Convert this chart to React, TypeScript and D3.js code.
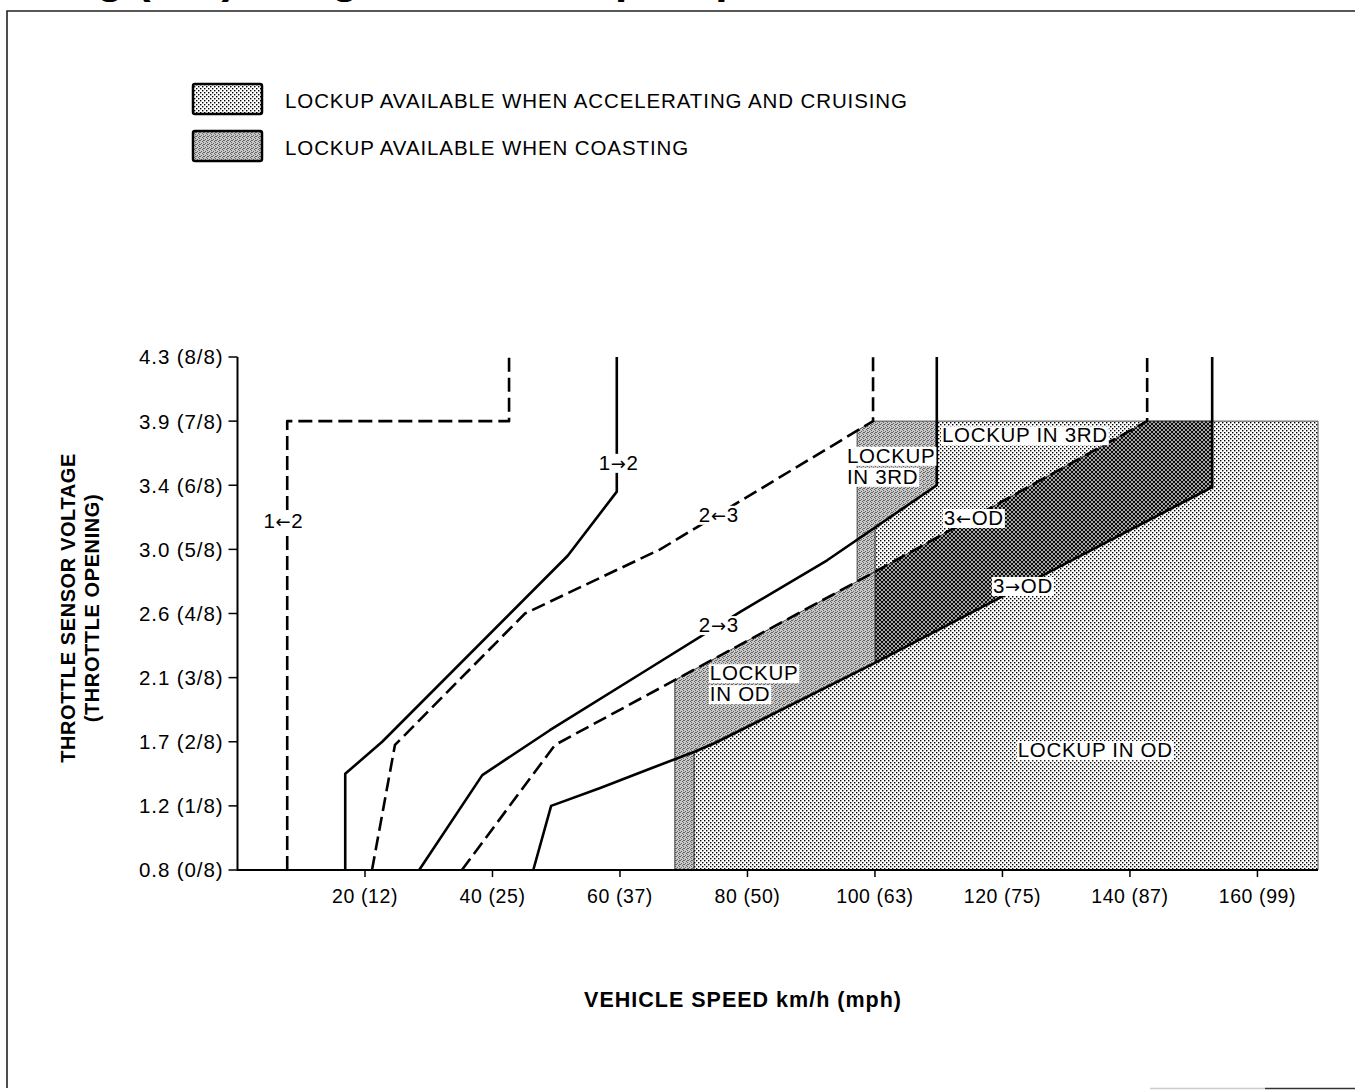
import React, { useEffect, useRef } from "react";
import * as d3 from "d3";

const W = 1355;
const H = 1090;

// ---- axis ticks ----
const speedTicks = [20, 40, 60, 80, 100, 120, 140, 160];
const mphTicks = [12, 25, 37, 50, 63, 75, 87, 99];
const throttleEighths = [0, 1, 2, 3, 4, 5, 6, 7, 8];
const voltageTicks = ["0.8", "1.2", "1.7", "2.1", "2.6", "3.0", "3.4", "3.9", "4.3"];

// ---- shift lines: [speed km/h, throttle eighths] ----
type Pt = [number, number];
const down12: Pt[] = [[7.8, 0], [7.8, 7], [42.6, 7], [42.6, 8]];
const up12: Pt[] = [[16.9, 0], [16.9, 1.5], [22.7, 2.0], [51.8, 4.9], [59.5, 5.9], [59.5, 8]];
const down23: Pt[] = [[21.1, 0], [24.7, 1.95], [45.1, 4.0], [66.3, 5.0], [99.7, 7], [99.7, 8]];
const up23: Pt[] = [[28.5, 0], [38.4, 1.48], [49.0, 2.18], [64.7, 3.15], [78.8, 4.02], [92.5, 4.83], [109.7, 6.0], [109.7, 8]];
const down3OD: Pt[] = [[35.2, 0], [49.8, 1.95], [100, 4.65], [142.7, 7], [142.7, 8]];
const up3OD: Pt[] = [[46.4, 0], [49.2, 1.0], [56.9, 1.28], [64.7, 1.58], [71.6, 1.84], [74.9, 1.98], [100, 3.23], [152.9, 5.97], [152.9, 8]];

// ---- lockup zone boundaries (km/h, eighths) ----
const speedMax = 169.5;
const lockupTop = 7;
const odCoastStart = 68.6;
const odAccelStart = 71.6;
const thirdCoastStart = 97.2;
const thirdAccelSplit = 100;

const shiftLines = [
  { pts: down12, dashed: true },
  { pts: up12, dashed: false },
  { pts: down23, dashed: true },
  { pts: up23, dashed: false },
  { pts: down3OD, dashed: true },
  { pts: up3OD, dashed: false },
];

// ---- annotations ----
const annotations = [
  { lines: ["1\u21902"], v: 7.2, e: 5.33, anchor: "middle" },
  { lines: ["1\u21922"], v: 59.8, e: 6.24, anchor: "middle" },
  { lines: ["2\u21903"], v: 75.5, e: 5.43, anchor: "middle" },
  { lines: ["2\u21923"], v: 75.5, e: 3.71, anchor: "middle" },
  { lines: ["LOCKUP", "IN 3RD"], v: 95.6, e: 6.35, anchor: "start" },
  { lines: ["LOCKUP IN 3RD"], v: 110.5, e: 6.67, anchor: "start" },
  { lines: ["3\u2190OD"], v: 110.8, e: 5.38, anchor: "start" },
  { lines: ["3\u2192OD"], v: 118.5, e: 4.32, anchor: "start" },
  { lines: ["LOCKUP", "IN OD"], v: 74.1, e: 2.96, anchor: "start" },
  { lines: ["LOCKUP IN OD"], v: 122.4, e: 1.76, anchor: "start" },
];

const legendItems = [
  { label: "LOCKUP AVAILABLE WHEN ACCELERATING AND CRUISING", fill: "url(#pDot)" },
  { label: "LOCKUP AVAILABLE WHEN COASTING", fill: "url(#pGrey)" },
];

const FONT = "'Liberation Sans', Arial, Helvetica, sans-serif";

function eAt(line: Pt[], v: number): number {
  for (let i = 0; i < line.length - 1; i++) {
    const [x0, y0] = line[i];
    const [x1, y1] = line[i + 1];
    if (x1 > x0 && v >= x0 && v <= x1) return y0 + ((v - x0) / (x1 - x0)) * (y1 - y0);
  }
  return NaN;
}

function seg(line: Pt[], a: number, b: number): Pt[] {
  const lo = Math.min(a, b);
  const hi = Math.max(a, b);
  const inner = line.filter((p) => p[0] > lo && p[0] < hi);
  const pts: Pt[] = [[lo, eAt(line, lo)], ...inner, [hi, eAt(line, hi)]];
  return a <= b ? pts : pts.reverse();
}

const topX = (line: Pt[]) => line[line.length - 1][0];

export default function App() {
  const ref = useRef<SVGSVGElement>(null);

  useEffect(() => {
    const svg = d3.select(ref.current);
    svg.selectAll("*").remove();

    const x = d3.scaleLinear().domain([0, speedMax]).range([237.5, 1318]);
    const y = d3.scaleLinear().domain([0, 8]).range([870, 357]);

    // patterns
    const defs = svg.append("defs");
    const pDot = defs.append("pattern").attr("id", "pDot").attr("patternUnits", "userSpaceOnUse").attr("width", 4).attr("height", 4);
    pDot.append("rect").attr("width", 4).attr("height", 4).attr("fill", "#fff");
    pDot.append("rect").attr("x", 0).attr("y", 0).attr("width", 1.4).attr("height", 1.4).attr("fill", "#000");
    pDot.append("rect").attr("x", 2).attr("y", 2).attr("width", 1.4).attr("height", 1.4).attr("fill", "#000");

    const pGrey = defs.append("pattern").attr("id", "pGrey").attr("patternUnits", "userSpaceOnUse").attr("width", 4).attr("height", 4);
    pGrey.append("rect").attr("width", 4).attr("height", 4).attr("fill", "#c8c8c8");
    [[0, 0], [2, 1], [1, 3], [3, 2], [3, 0]].forEach(([px, py]) =>
      pGrey.append("rect").attr("x", px).attr("y", py).attr("width", 1).attr("height", 1).attr("fill", "#666")
    );

    const pDark = defs.append("pattern").attr("id", "pDark").attr("patternUnits", "userSpaceOnUse").attr("width", 4).attr("height", 4);
    pDark.append("rect").attr("width", 4).attr("height", 4).attr("fill", "#e0e0e0");
    pDark.append("path").attr("d", "M0,0L4,4M4,0L0,4M-1,3L1,5M3,-1L5,1M-1,1L1,-1M3,5L5,3").attr("stroke", "#000").attr("stroke-width", 1.05);

    // title (cut off at top, as in the source scan)
    svg.append("text")
      .attr("x", -40).attr("y", -7)
      .attr("font-family", FONT).attr("font-weight", "bold").attr("font-size", 44)
      .text("Shifting (A/T) Range and Lockup Map");

    // frame
    svg.append("path").attr("d", "M7,1088V11H1360").attr("fill", "none").attr("stroke", "#222").attr("stroke-width", 1.6);
    svg.append("path").attr("d", "M1150,1088.5H1265").attr("stroke", "#ccc").attr("stroke-width", 1.5);
    svg.append("path").attr("d", "M1265,1088.5H1360").attr("stroke", "#333").attr("stroke-width", 1.5);

    // legend
    legendItems.forEach((it, i) => {
      const ly = 84 + i * 47;
      svg.append("rect").attr("x", 193).attr("y", ly).attr("width", 69).attr("height", 30).attr("rx", 2)
        .attr("fill", it.fill).attr("stroke", "#000").attr("stroke-width", 2.5);
      svg.append("text").attr("x", 285).attr("y", ly + 24)
        .attr("font-family", FONT).attr("font-size", 20.5).attr("letter-spacing", 0.9).text(it.label);
    });

    const toPx = (pts: Pt[]) => pts.map((p) => [x(p[0]), y(p[1])] as [number, number]);
    const poly = (pts: Pt[]) => "M" + toPx(pts).map((p) => p.join(",")).join("L") + "Z";

    // accelerating (dotted) region
    const dotted: Pt[] = [
      [odAccelStart, 0], [speedMax, 0], [speedMax, lockupTop], [topX(up23), lockupTop],
      ...seg(up23, topX(up23), thirdAccelSplit),
      ...seg(up3OD, thirdAccelSplit, odAccelStart),
    ];
    svg.append("path").attr("d", poly(dotted)).attr("fill", "url(#pDot)").attr("stroke", "#222").attr("stroke-width", 0.8);

    // overlap region (dark)
    const dark: Pt[] = [
      ...seg(down3OD, thirdAccelSplit, topX(down3OD)),
      [topX(up3OD), lockupTop],
      ...seg(up3OD, topX(up3OD), thirdAccelSplit),
    ];
    svg.append("path").attr("d", poly(dark)).attr("fill", "url(#pDark)").attr("stroke", "#222").attr("stroke-width", 0.8);

    // coasting in OD (grey)
    const greyOD: Pt[] = [
      [odCoastStart, 0], [odAccelStart, 0],
      ...seg(up3OD, odAccelStart, thirdAccelSplit),
      ...seg(down3OD, thirdAccelSplit, odCoastStart),
    ];
    svg.append("path").attr("d", poly(greyOD)).attr("fill", "url(#pGrey)").attr("stroke", "#222").attr("stroke-width", 0.8);

    // coasting in 3rd (grey)
    const grey3: Pt[] = [
      ...seg(down3OD, thirdCoastStart, thirdAccelSplit),
      ...seg(up23, thirdAccelSplit, topX(up23)),
      [topX(up23), lockupTop],
      ...seg(down23, topX(down23), thirdCoastStart),
    ];
    svg.append("path").attr("d", poly(grey3)).attr("fill", "url(#pGrey)").attr("stroke", "#222").attr("stroke-width", 0.8);

    // axes
    svg.append("path").attr("d", `M${x(0)},${y(8)}V${y(0)}H${x(speedMax)}`).attr("fill", "none").attr("stroke", "#000").attr("stroke-width", 2);
    throttleEighths.forEach((t, i) => {
      svg.append("line").attr("x1", x(0) - 9).attr("x2", x(0)).attr("y1", y(t)).attr("y2", y(t)).attr("stroke", "#000").attr("stroke-width", 1.5);
      svg.append("text").attr("x", x(0) - 14).attr("y", y(t)).attr("dy", "0.36em").attr("text-anchor", "end")
        .attr("font-family", FONT).attr("font-size", 20.5).attr("letter-spacing", 0.9)
        .text(`${voltageTicks[i]} (${t}/8)`);
    });
    speedTicks.forEach((s, i) => {
      svg.append("line").attr("x1", x(s)).attr("x2", x(s)).attr("y1", y(0)).attr("y2", y(0) + 7).attr("stroke", "#000").attr("stroke-width", 1.5);
      svg.append("text").attr("x", x(s)).attr("y", 903).attr("text-anchor", "middle")
        .attr("font-family", FONT).attr("font-size", 19.5).attr("letter-spacing", 0.6)
        .text(`${s} (${mphTicks[i]})`);
    });

    // axis titles
    svg.append("text").attr("x", 743).attr("y", 1007).attr("text-anchor", "middle")
      .attr("font-family", FONT).attr("font-weight", "bold").attr("font-size", 21.5).attr("letter-spacing", 1)
      .text("VEHICLE SPEED km/h (mph)");
    const yt = svg.append("g").attr("transform", "translate(75,608) rotate(-90)");
    yt.append("text").attr("x", 0).attr("y", 0).attr("text-anchor", "middle")
      .attr("font-family", FONT).attr("font-weight", "bold").attr("font-size", 20).attr("letter-spacing", 0.6)
      .text("THROTTLE SENSOR VOLTAGE");
    yt.append("text").attr("x", 0).attr("y", 24).attr("text-anchor", "middle")
      .attr("font-family", FONT).attr("font-weight", "bold").attr("font-size", 20).attr("letter-spacing", 0.6)
      .text("(THROTTLE OPENING)");

    // shift lines
    const lineGen = d3.line<Pt>().x((d) => x(d[0])).y((d) => y(d[1]));
    shiftLines.forEach((l) => {
      svg.append("path").attr("d", lineGen(l.pts) as string).attr("fill", "none").attr("stroke", "#000")
        .attr("stroke-width", 2.6).attr("stroke-linejoin", "round")
        .attr("stroke-dasharray", l.dashed ? "14 6" : null);
    });

    // annotations with white backgrounds
    annotations.forEach((a) => {
      a.lines.forEach((ln, j) => {
        const g = svg.append("g");
        const bg = g.append("rect").attr("fill", "#fff");
        const t = g.append("text").attr("x", x(a.v)).attr("y", y(a.e) + j * 21)
          .attr("text-anchor", a.anchor).attr("font-family", FONT).attr("font-size", 20.5).attr("letter-spacing", 0.7);
        const parts = ln.split(/([\u2190\u2192])/).filter((s) => s.length);
        parts.forEach((p) => {
          const isArrow = p === "\u2190" || p === "\u2192";
          t.append("tspan")
            .attr("font-family", isArrow ? "'DejaVu Sans', sans-serif" : FONT)
            .attr("font-size", isArrow ? 18 : 20.5)
            .text(p);
        });
        const bb = (t.node() as SVGTextElement).getBBox();
        bg.attr("x", bb.x - 1).attr("y", bb.y + 3).attr("width", bb.width + 2).attr("height", bb.height - 4);
      });
    });
  }, []);

  return (
    <svg
      ref={ref}
      width={W}
      height={H}
      style={{ position: "absolute", left: 0, top: 0, background: "#fff" }}
    />
  );
}
